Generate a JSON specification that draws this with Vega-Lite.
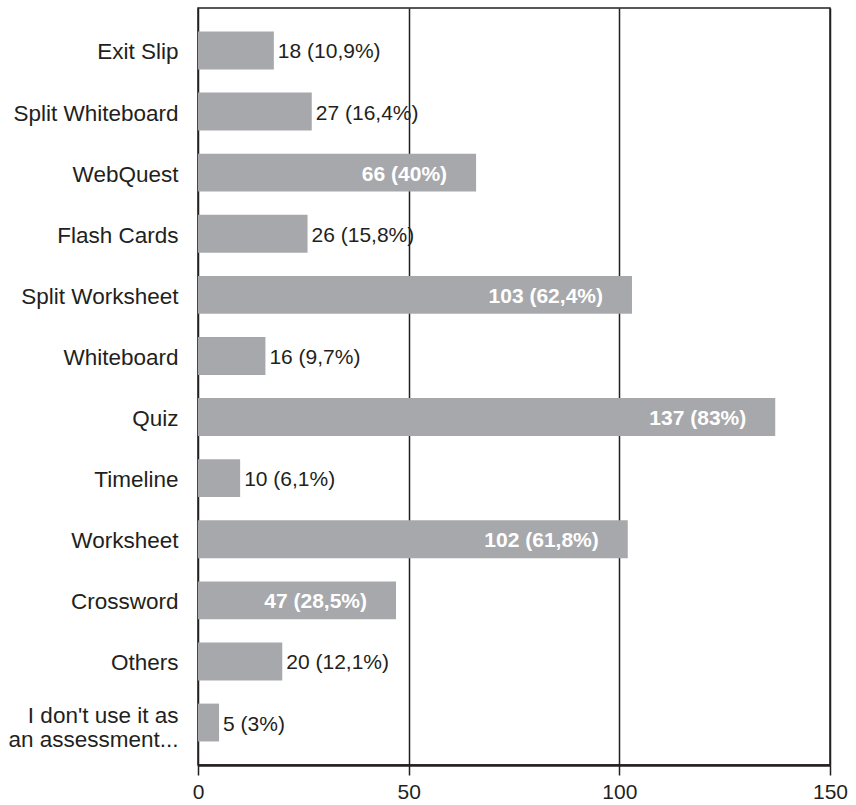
{
  "$schema": "https://vega.github.io/schema/vega-lite/v6.json",
  "autosize": "none",
  "width": 632,
  "height": 757,
  "padding": {"left": 198, "top": 8, "right": 26, "bottom": 40},
  "background": "white",
  "config": {
    "font": "Liberation Sans",
    "view": {"stroke": "#231f20", "strokeWidth": 1.5}
  },
  "data": {
    "values": [
      {"cat": "Exit Slip", "n": 18, "label": "18 (10,9%)"},
      {"cat": "Split Whiteboard", "n": 27, "label": "27 (16,4%)"},
      {"cat": "WebQuest", "n": 66, "label": "66 (40%)"},
      {"cat": "Flash Cards", "n": 26, "label": "26 (15,8%)"},
      {"cat": "Split Worksheet", "n": 103, "label": "103 (62,4%)"},
      {"cat": "Whiteboard", "n": 16, "label": "16 (9,7%)"},
      {"cat": "Quiz", "n": 137, "label": "137 (83%)"},
      {"cat": "Timeline", "n": 10, "label": "10 (6,1%)"},
      {"cat": "Worksheet", "n": 102, "label": "102 (61,8%)"},
      {"cat": "Crossword", "n": 47, "label": "47 (28,5%)"},
      {"cat": "Others", "n": 20, "label": "20 (12,1%)"},
      {"cat": "I don't use it as\nan assessment...", "n": 5, "label": "5 (3%)"}
    ]
  },
  "encoding": {
    "y": {
      "field": "cat",
      "type": "nominal",
      "sort": null,
      "scale": {"paddingInner": 0.38, "paddingOuter": 0.385},
      "axis": {
        "title": null,
        "ticks": false,
        "domain": false,
        "labelFontSize": 22.5,
        "labelColor": "#231f20",
        "labelPadding": 20,
        "labelLineHeight": 24,
        "labelLimit": 300,
        "labelOffset": {"condition": {"test": "indexof(datum.value, '\\n') >= 0", "value": -7}, "value": 2},
        "labelExpr": "split(datum.label, '\\n')"
      }
    },
    "x": {
      "field": "n",
      "type": "quantitative",
      "scale": {"domain": [0, 150], "nice": false},
      "axis": {
        "title": null,
        "values": [0, 50, 100, 150],
        "grid": true,
        "gridColor": "#231f20",
        "gridWidth": 1.5,
        "gridOpacity": 1,
        "domainColor": "#231f20",
        "domainWidth": 2.5,
        "tickColor": "#231f20",
        "tickWidth": 1.5,
        "tickSize": 10,
        "labelFontSize": 21,
        "labelColor": "#231f20",
        "labelPadding": 6,
        "labelFlush": false
      }
    }
  },
  "layer": [
    {"mark": {"type": "bar", "color": "#a7a8ab"}},
    {
      "transform": [{"filter": "datum.n < 40"}],
      "mark": {"type": "text", "align": "left", "dx": 4, "dy": 2, "fontSize": 21, "color": "#231f20"},
      "encoding": {"text": {"field": "label"}}
    },
    {
      "transform": [{"filter": "datum.n >= 40"}],
      "mark": {"type": "text", "align": "right", "dx": -29, "dy": 2, "fontSize": 21, "fontWeight": "bold", "color": "white"},
      "encoding": {"text": {"field": "label"}}
    }
  ]
}
